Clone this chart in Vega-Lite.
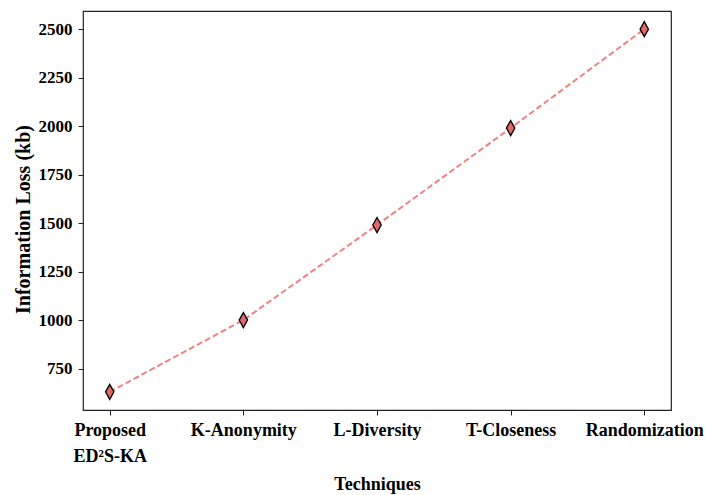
{
  "$schema": "https://vega.github.io/schema/vega-lite/v6.json",
  "autosize": "none",
  "width": 588,
  "height": 399,
  "padding": {"left": 83, "top": 11, "right": 34, "bottom": 85},
  "background": "white",
  "config": {
    "view": {"stroke": "#222", "strokeWidth": 1.2},
    "font": "Liberation Serif"
  },
  "data": {
    "values": [
      {"technique": "Proposed ED²S-KA", "loss": 630},
      {"technique": "K-Anonymity", "loss": 1000},
      {"technique": "L-Diversity", "loss": 1490},
      {"technique": "T-Closeness", "loss": 1990},
      {"technique": "Randomization", "loss": 2500}
    ]
  },
  "encoding": {
    "x": {
      "field": "technique",
      "type": "ordinal",
      "sort": null,
      "scale": {"type": "point", "padding": 0.2},
      "axis": {
        "title": "Techniques",
        "labelAngle": 0,
        "labelFont": "Liberation Serif",
        "labelFontWeight": "bold",
        "labelFontSize": 18,
        "labelColor": "black",
        "labelPadding": 6,
        "labelLineHeight": 26,
        "labelExpr": "datum.value == 'Proposed ED²S-KA' ? ['Proposed', 'ED²S-KA'] : datum.label",
        "tickSize": 5,
        "tickColor": "#222",
        "domain": false,
        "grid": false,
        "titleFont": "Liberation Serif",
        "titleFontWeight": "bold",
        "titleFontSize": 18,
        "titleColor": "black",
        "titlePadding": 10
      }
    },
    "y": {
      "field": "loss",
      "type": "quantitative",
      "scale": {"domain": [536.5, 2593.5], "nice": false, "zero": false},
      "axis": {
        "title": "Information Loss (kb)",
        "values": [750, 1000, 1250, 1500, 1750, 2000, 2250, 2500],
        "format": "d",
        "labelFont": "Liberation Serif",
        "labelFontWeight": "bold",
        "labelFontSize": 17,
        "labelColor": "black",
        "labelPadding": 6,
        "tickSize": 5,
        "tickColor": "#222",
        "domain": false,
        "grid": false,
        "titleFont": "Liberation Serif",
        "titleFontWeight": "bold",
        "titleFontSize": 20,
        "titleColor": "black",
        "titleAngle": -90,
        "titleAlign": "center",
        "titleBaseline": "middle",
        "titleX": -60,
        "titleY": 208
      }
    }
  },
  "layer": [
    {
      "mark": {"type": "line", "color": "#f08282", "strokeWidth": 2, "strokeDash": [6, 3]}
    },
    {
      "mark": {
        "type": "point",
        "shape": "M0,-1L0.56,0L0,1L-0.56,0Z",
        "size": 225,
        "filled": true,
        "fill": "#e06a6a",
        "fillOpacity": 1,
        "stroke": "black",
        "strokeWidth": 1.3,
        "opacity": 1
      }
    }
  ]
}
